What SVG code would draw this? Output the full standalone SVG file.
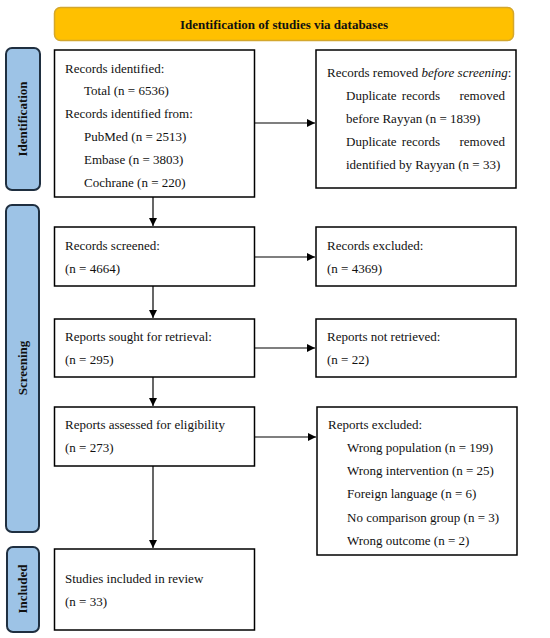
<svg xmlns="http://www.w3.org/2000/svg" width="550" height="638" viewBox="0 0 550 638">
<style>
.box{fill:#fff;stroke:#000;stroke-width:1.5}
.side{fill:#9DC3E6;stroke:#1F2F40;stroke-width:2}
.t{font-family:"Liberation Serif","Times New Roman",serif;font-size:13px;fill:#111}
.b{font-family:"Liberation Serif","Times New Roman",serif;font-size:13px;font-weight:bold;fill:#111}
.c{stroke:#000;stroke-width:1.2;fill:none;marker-end:url(#ah)}
</style>
<defs>
<marker id="ah" viewBox="0 0 10 10" refX="10" refY="5" markerWidth="10" markerHeight="8" markerUnits="userSpaceOnUse" orient="auto">
<path d="M0,0 L10,5 L0,10 z" fill="#000"/>
</marker>
</defs>
<rect width="550" height="638" fill="#fff"/>
<g id="header">
<rect x="54.5" y="7.5" width="459" height="33" rx="6" fill="#FFC000" stroke="#D4A72C" stroke-width="1.5"/>
<text class="b" x="284" y="29" text-anchor="middle">Identification of studies via databases</text>
</g>
<g id="side-identification">
<rect class="side" x="6" y="48" width="34" height="142" rx="6"/>
<text class="b" transform="translate(27,119) rotate(-90)" text-anchor="middle">Identification</text>
</g>
<g id="side-screening">
<rect class="side" x="6" y="205" width="33" height="327" rx="6"/>
<text class="b" transform="translate(27,368) rotate(-90)" text-anchor="middle">Screening</text>
</g>
<g id="side-included">
<rect class="side" x="7" y="547" width="32" height="85" rx="6"/>
<text class="b" transform="translate(27,589) rotate(-90)" text-anchor="middle">Included</text>
</g>
<g id="records-identified">
<rect class="box" x="54.5" y="50" width="200" height="147"/>
<text class="t" x="65" y="73">Records identified:</text>
<text class="t" x="84" y="95">Total (n = 6536)</text>
<text class="t" x="65" y="118">Records identified from:</text>
<text class="t" x="84" y="141">PubMed (n = 2513)</text>
<text class="t" x="84" y="164">Embase (n = 3803)</text>
<text class="t" x="84" y="187">Cochrane (n = 220)</text>
</g>
<g id="records-removed">
<rect class="box" x="316" y="50" width="200" height="138"/>
<text class="t" x="327" y="77">Records removed <tspan font-style="italic">before screening</tspan>:</text>
<text class="t" x="346" y="100">Duplicate</text>
<text class="t" x="421" y="100" text-anchor="middle">records</text>
<text class="t" x="505" y="100" text-anchor="end">removed</text>
<text class="t" x="346" y="123">before Rayyan (n = 1839)</text>
<text class="t" x="346" y="146">Duplicate</text>
<text class="t" x="421" y="146" text-anchor="middle">records</text>
<text class="t" x="505" y="146" text-anchor="end">removed</text>
<text class="t" x="346" y="169">identified by Rayyan (n = 33)</text>
</g>
<g id="records-screened">
<rect class="box" x="54.5" y="227" width="200" height="59"/>
<text class="t" x="65" y="250">Records screened:</text>
<text class="t" x="65" y="273">(n = 4664)</text>
</g>
<g id="records-excluded">
<rect class="box" x="316" y="227" width="200" height="59"/>
<text class="t" x="327" y="250">Records excluded:</text>
<text class="t" x="327" y="273">(n = 4369)</text>
</g>
<g id="reports-sought">
<rect class="box" x="54.5" y="319" width="200" height="58"/>
<text class="t" x="65" y="341">Reports sought for retrieval:</text>
<text class="t" x="65" y="364">(n = 295)</text>
</g>
<g id="reports-not-retrieved">
<rect class="box" x="316" y="319" width="200" height="58"/>
<text class="t" x="327" y="341">Reports not retrieved:</text>
<text class="t" x="327" y="364">(n = 22)</text>
</g>
<g id="reports-assessed">
<rect class="box" x="54.5" y="407" width="200" height="59"/>
<text class="t" x="65" y="429">Reports assessed for eligibility</text>
<text class="t" x="65" y="452">(n = 273)</text>
</g>
<g id="reports-excluded">
<rect class="box" x="317" y="407" width="200" height="148"/>
<text class="t" x="328" y="429">Reports excluded:</text>
<text class="t" x="347" y="452">Wrong population (n = 199)</text>
<text class="t" x="347" y="475">Wrong intervention (n = 25)</text>
<text class="t" x="347" y="498">Foreign language (n = 6)</text>
<text class="t" x="347" y="522">No comparison group (n = 3)</text>
<text class="t" x="347" y="545">Wrong outcome (n = 2)</text>
</g>
<g id="studies-included">
<rect class="box" x="54.5" y="549" width="200" height="81"/>
<text class="t" x="65" y="583">Studies included in review</text>
<text class="t" x="65" y="606">(n = 33)</text>
</g>
<g id="connectors">
<line class="c" x1="254.5" y1="123" x2="315" y2="123"/>
<line class="c" x1="254.5" y1="257" x2="315" y2="257"/>
<line class="c" x1="254.5" y1="348" x2="315" y2="348"/>
<line class="c" x1="254.5" y1="437" x2="316" y2="437"/>
<line class="c" x1="153" y1="197" x2="153" y2="226"/>
<line class="c" x1="153" y1="286" x2="153" y2="318"/>
<line class="c" x1="153" y1="377" x2="153" y2="406"/>
<line class="c" x1="153" y1="466" x2="153" y2="548"/>
</g>
</svg>
